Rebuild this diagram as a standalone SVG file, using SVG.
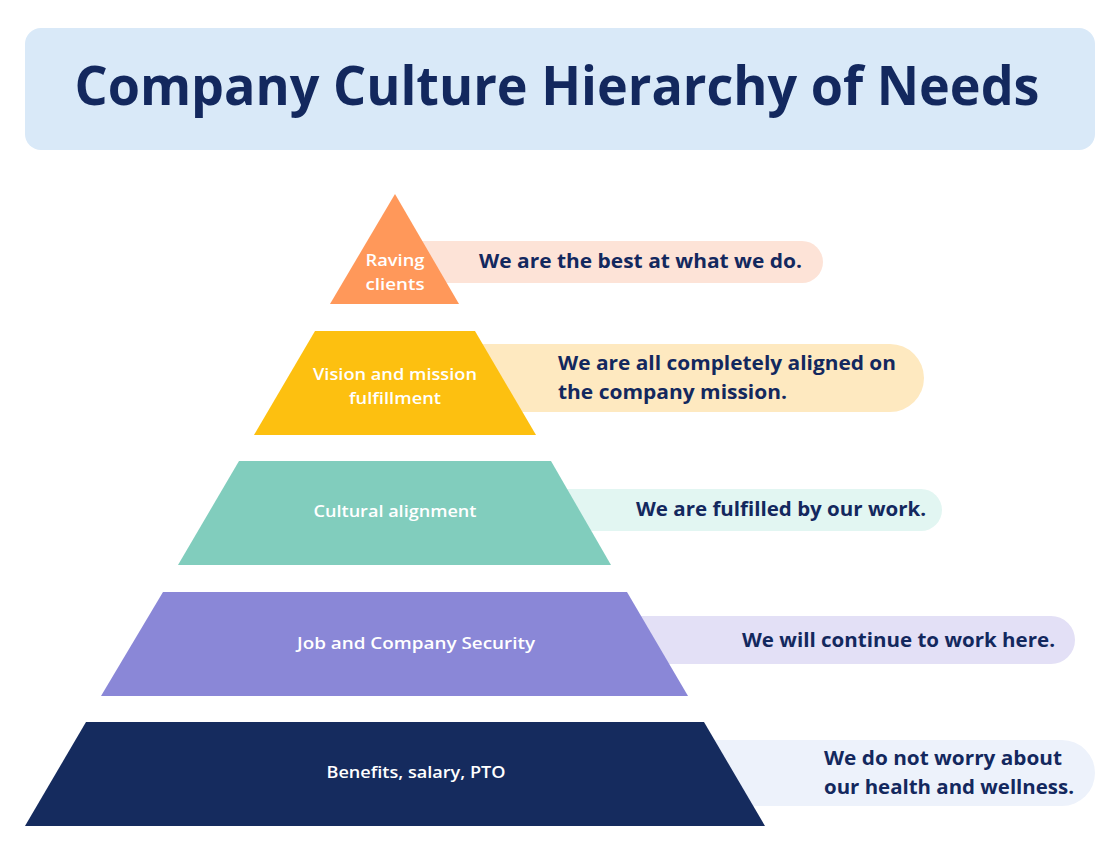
<svg xmlns="http://www.w3.org/2000/svg" width="1120" height="865" viewBox="0 0 1120 865">
<style>
.title{font-family:"Open Sans","Liberation Sans",sans-serif;font-weight:700;font-size:54px;fill:#13285e}
.lbl{font-family:"Open Sans","Liberation Sans",sans-serif;font-weight:600;font-size:17px;fill:#ffffff}
.desc{font-family:"Open Sans","Liberation Sans",sans-serif;font-weight:700;font-size:20px;fill:#13285e}
</style>
<rect width="1120" height="865" fill="#ffffff"/>
<g id="title">
<rect x="25" y="28" width="1070" height="122" rx="16" fill="#d9e9f8"/>
<text class="title" x="557" y="105" text-anchor="middle" textLength="965" lengthAdjust="spacingAndGlyphs">Company Culture Hierarchy of Needs</text>
</g>
<g id="level1">
<rect x="400" y="241" width="423" height="42" rx="21" fill="#fde3d7"/>
<polygon points="395,194 459,304 330,304" fill="#ff985a"/>
<text class="lbl" x="395" y="266" text-anchor="middle" textLength="59" lengthAdjust="spacingAndGlyphs">Raving</text>
<text class="lbl" x="395" y="290" text-anchor="middle" textLength="59" lengthAdjust="spacingAndGlyphs">clients</text>
<text class="desc" x="479" y="268" textLength="323" lengthAdjust="spacingAndGlyphs">We are the best at what we do.</text>
</g>
<g id="level2">
<rect x="450" y="344" width="474" height="68" rx="34" fill="#fee9c0"/>
<polygon points="315,331 475,331 536,435 254,435" fill="#fdc010"/>
<text class="lbl" x="395" y="380" text-anchor="middle" textLength="164" lengthAdjust="spacingAndGlyphs">Vision and mission</text>
<text class="lbl" x="395" y="404" text-anchor="middle" textLength="92" lengthAdjust="spacingAndGlyphs">fulfillment</text>
<text class="desc" x="558" y="370" textLength="338" lengthAdjust="spacingAndGlyphs">We are all completely aligned on</text>
<text class="desc" x="558" y="399" textLength="229" lengthAdjust="spacingAndGlyphs">the company mission.</text>
</g>
<g id="level3">
<rect x="540" y="489" width="402" height="42" rx="21" fill="#e2f6f2"/>
<polygon points="239,461 551,461 611,565 178,565" fill="#81cdbd"/>
<text class="lbl" x="395" y="517" text-anchor="middle" textLength="163" lengthAdjust="spacingAndGlyphs">Cultural alignment</text>
<text class="desc" x="636" y="516" textLength="290" lengthAdjust="spacingAndGlyphs">We are fulfilled by our work.</text>
</g>
<g id="level4">
<rect x="600" y="616" width="475" height="48" rx="24" fill="#e3e0f6"/>
<polygon points="163,592 627,592 688,696 101,696" fill="#8a87d7"/>
<text class="lbl" x="416" y="649" text-anchor="middle" textLength="238" lengthAdjust="spacingAndGlyphs">Job and Company Security</text>
<text class="desc" x="742" y="647" textLength="313" lengthAdjust="spacingAndGlyphs">We will continue to work here.</text>
</g>
<g id="level5">
<rect x="680" y="740" width="415" height="66" rx="33" fill="#edf2fb"/>
<polygon points="86,722 704,722 765,826 25,826" fill="#152b5e"/>
<text class="lbl" x="416" y="778" text-anchor="middle" textLength="179" lengthAdjust="spacingAndGlyphs">Benefits, salary, PTO</text>
<text class="desc" x="824" y="765" textLength="238" lengthAdjust="spacingAndGlyphs">We do not worry about</text>
<text class="desc" x="824" y="794" textLength="250" lengthAdjust="spacingAndGlyphs">our health and wellness.</text>
</g>
<g id="connectors"></g>
</svg>
